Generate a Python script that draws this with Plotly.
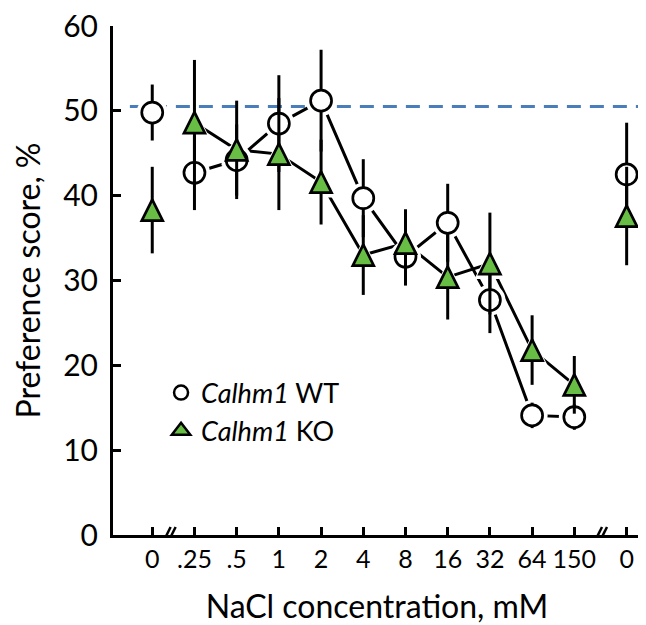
import plotly.graph_objects as go

# NaCl concentration (mM); first 0 = control before, last 0 = control after the break
conc_labels = ["0", ".25", ".5", "1", "2", "4", "8", "16", "32", "64", "150", "0"]

wt_mean = [49.8, 42.7, 44.2, 48.5, 51.2, 39.7, 32.8, 36.8, 27.7, 14.1, 13.9, 42.5]
wt_err = [3.3, 4.4, 4.2, 5.7, 6.0, 4.6, 3.4, 4.6, 3.9, 1.5, 1.5, 6.1]

ko_mean = [38.3, 48.6, 45.4, 44.9, 41.6, 33.0, 34.4, 30.4, 32.0, 21.8, 17.7, 37.6]
ko_err = [5.1, 7.4, 5.8, 6.6, 5.0, 4.7, 4.0, 5.0, 6.0, 4.1, 3.4, 5.8]

baseline = 50.5

# slot index on the x axis; the last control sits a little further out after the break
slot = list(range(len(conc_labels) - 1)) + [len(conc_labels) - 1 + 0.24]
dose = slice(1, 11)

FONT = "Lato"
GREEN = "#68bd45"
SZ = 21
HALO = 31

fig = go.Figure()

# connecting lines (dose series only, not the controls)
for mean in (wt_mean, ko_mean):
    fig.add_trace(go.Scatter(x=slot[dose], y=mean[dose], mode="lines",
                             line=dict(color="black", width=3),
                             showlegend=False, hoverinfo="skip"))

# white halos so the lines stop short of the markers
fig.add_trace(go.Scatter(x=slot, y=wt_mean, mode="markers",
                         marker=dict(symbol="circle", size=HALO, color="white",
                                     line=dict(width=0)),
                         showlegend=False, hoverinfo="skip"))
fig.add_trace(go.Scatter(x=slot, y=ko_mean, mode="markers",
                         marker=dict(symbol="arrow-down", angle=180, size=HALO,
                                     standoff=HALO / 2, color="white",
                                     line=dict(width=0)),
                         showlegend=False, hoverinfo="skip"))

# markers + error bars
fig.add_trace(go.Scatter(x=slot, y=wt_mean, mode="markers",
                         error_y=dict(type="data", array=wt_err, color="black",
                                      thickness=3, width=0),
                         marker=dict(symbol="circle", size=SZ, color="white",
                                     line=dict(color="black", width=2.7)),
                         showlegend=False))
fig.add_trace(go.Scatter(x=slot, y=ko_mean, mode="markers",
                         error_y=dict(type="data", array=ko_err, color="black",
                                      thickness=3, width=0),
                         marker=dict(symbol="arrow-down", angle=180, size=SZ,
                                     standoff=SZ / 2, color=GREEN,
                                     line=dict(color="black", width=2.7)),
                         showlegend=False))

# legend entries
fig.add_trace(go.Scatter(x=[None], y=[None], mode="markers", name="<i>Calhm1</i> WT",
                         marker=dict(symbol="circle", size=14, color="white",
                                     line=dict(color="black", width=2.5))))
fig.add_trace(go.Scatter(x=[None], y=[None], mode="markers", name="<i>Calhm1</i> KO",
                         marker=dict(symbol="triangle-up", size=16,
                                     color=GREEN, line=dict(color="black", width=2.5))))

shapes = [dict(type="line", xref="x", yref="y", x0=-0.53, x1=11.58,
               y0=baseline, y1=baseline, layer="below",
               line=dict(color="#4a7ebb", width=3, dash="14px,9px"))]

# axis break marks
for xb in (0.4, 10.62):
    shapes.append(dict(type="path", xref="x", yref="y", xsizemode="pixel",
                       ysizemode="pixel", xanchor=xb, yanchor=0,
                       path="M-6.5,-8 L1.5,8 L6.5,8 L-1.5,-8 Z",
                       fillcolor="white", line=dict(width=0), layer="above"))
    for dx in (-4, 1):
        shapes.append(dict(type="line", xref="x", yref="y", xsizemode="pixel",
                           ysizemode="pixel", xanchor=xb, yanchor=0,
                           x0=dx - 2.5, x1=dx + 5.5, y0=-8, y1=8, layer="above",
                           line=dict(color="black", width=2.5)))

fig.update_layout(
    width=638, height=617,
    margin=dict(l=105, r=5, t=17.5, b=90),
    template="none",
    paper_bgcolor="white", plot_bgcolor="white",
    font=dict(family=FONT, size=27, color="black"),
    showlegend=True,
    legend=dict(x=0.091, y=0.327, xanchor="left", yanchor="top",
                bgcolor="rgba(0,0,0,0)", font=dict(size=27),
                itemsizing="trace", tracegroupgap=0),
    shapes=shapes,
)

fig.update_xaxes(range=[-0.93, 11.58], tickmode="array", tickvals=slot,
                 ticktext=conc_labels, tickangle=0, automargin=False,
                 tickfont=dict(size=25), ticklabeloverflow="allow",
                 showline=True, linecolor="black", linewidth=3,
                 ticks="inside", ticklen=8, tickwidth=3, tickcolor="black",
                 showgrid=False, zeroline=False,
                 title=dict(text="NaCl concentration, mM", standoff=26))
fig.update_yaxes(range=[0, 60], dtick=10, automargin=False,
                 tickfont=dict(size=30), ticklabeloverflow="allow",
                 ticklabelstandoff=6,
                 showline=True, linecolor="black", linewidth=3,
                 ticks="inside", ticklen=8, tickwidth=3, tickcolor="black",
                 showgrid=False, zeroline=False,
                 title=dict(text="Preference score, %", standoff=22))

fig.write_html("out.html")
